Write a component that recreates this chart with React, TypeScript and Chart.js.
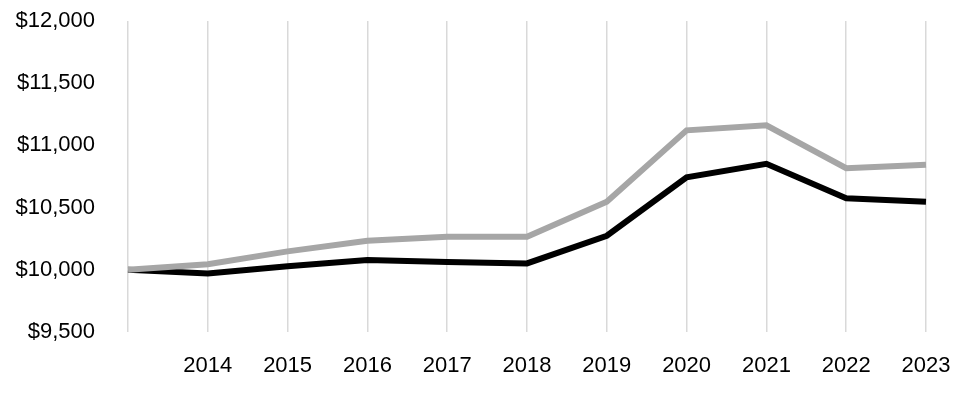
import React, { useEffect, useRef } from "react";
import { Chart, registerables } from "chart.js";

Chart.register(...registerables);

const categories = ["2013", "2014", "2015", "2016", "2017", "2018", "2019", "2020", "2021", "2022", "2023"];
const grayValues = [10000, 10045, 10148, 10234, 10266, 10266, 10548, 11121, 11161, 10817, 10844];
const blackValues = [10000, 9970, 10028, 10078, 10062, 10051, 10274, 10744, 10852, 10575, 10548];
const yMin = 9500;
const yMax = 12000;
const yStep = 500;

export default function App() {
  const ref = useRef<HTMLCanvasElement | null>(null);
  useEffect(() => {
    if (!ref.current) return;
    const font = { family: "'Liberation Sans', Arial, sans-serif", size: 22 };
    const chart = new Chart(ref.current, {
      type: "line",
      data: {
        labels: categories,
        datasets: [
          {
            label: "Gray",
            data: grayValues,
            borderColor: "#A6A6A6",
            borderWidth: 6,
            pointRadius: 0,
            tension: 0,
            fill: false,
          },
          {
            label: "Black",
            data: blackValues,
            borderColor: "#000000",
            borderWidth: 6,
            pointRadius: 0,
            tension: 0,
            fill: false,
          },
        ],
      },
      options: {
        animation: false,
        responsive: false,
        maintainAspectRatio: false,
        layout: { padding: { top: 21, right: 34, left: 0, bottom: 0 } },
        plugins: { legend: { display: false }, tooltip: { enabled: false } },
        scales: {
          x: {
            offset: false,
            grid: { display: true, color: "#D9D9D9", lineWidth: 1.5, drawTicks: false },
            border: { display: false },
            ticks: {
              color: "#000",
              font,
              padding: 21,
              autoSkip: false,
              maxRotation: 0,
              callback: (_v: any, i: number) => (i === 0 ? "" : categories[i]),
            },
            afterFit: (s: any) => {
              s.height = 68;
              s.paddingLeft = 0;
              s.paddingRight = 0;
            },
          },
          y: {
            min: yMin,
            max: yMax,
            grid: { display: false, drawTicks: false },
            border: { display: false },
            ticks: {
              stepSize: yStep,
              color: "#000",
              font,
              padding: 33,
              callback: (v: any) => "$" + Number(v).toLocaleString("en-US"),
            },
            afterFit: (s: any) => {
              s.width = 128;
              s.paddingTop = 0;
              s.paddingBottom = 0;
            },
          },
        },
      },
    });
    return () => chart.destroy();
  }, []);
  return (
    <div style={{ position: "absolute", left: 0, top: 0, width: 960, height: 400, background: "#fff" }}>
      <canvas ref={ref} width={960} height={400} style={{ width: 960, height: 400 }} />
    </div>
  );
}
